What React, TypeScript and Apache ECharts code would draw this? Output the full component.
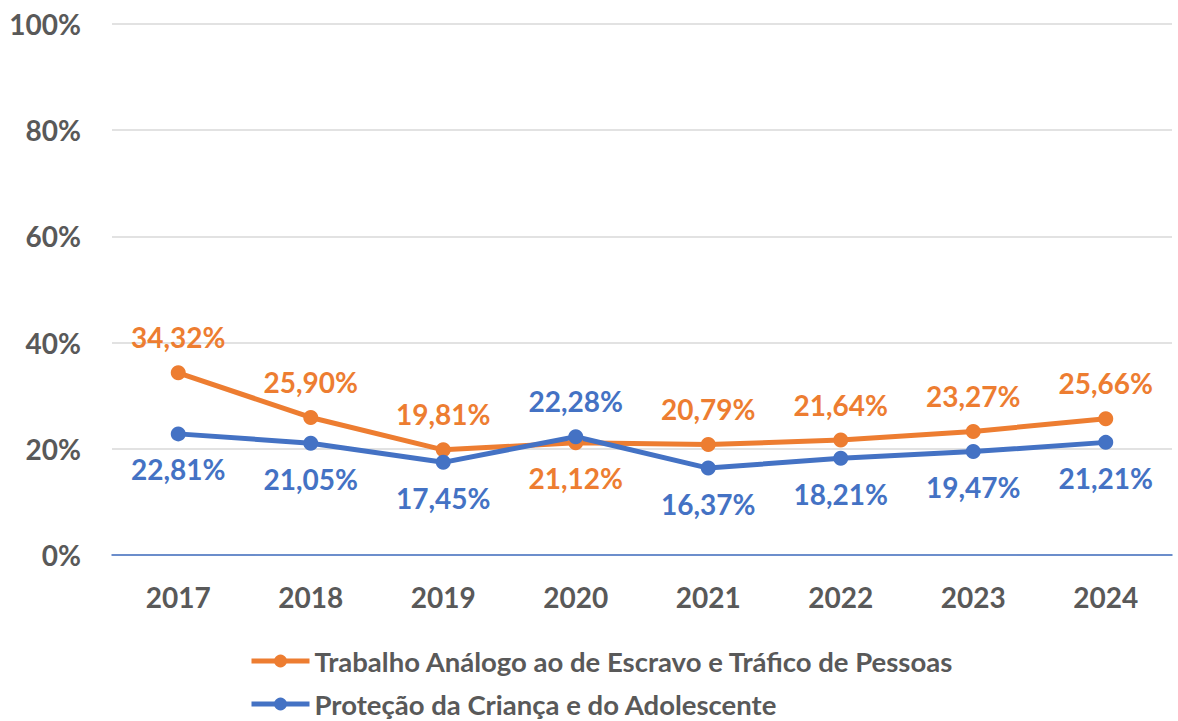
import React, { useEffect, useRef } from "react";
import * as echarts from "echarts";

const years = ["2017", "2018", "2019", "2020", "2021", "2022", "2023", "2024"];
const trabalho = [34.32, 25.9, 19.81, 21.12, 20.79, 21.64, 23.27, 25.66];
const protecao = [22.81, 21.05, 17.45, 22.28, 16.37, 18.21, 19.47, 21.21];
const trabalhoLabelPos = ["top", "top", "top", "bottom", "top", "top", "top", "top"];
const protecaoLabelPos = ["bottom", "bottom", "bottom", "top", "bottom", "bottom", "bottom", "bottom"];
const yTicks = [0, 20, 40, 60, 80, 100];
const seriesNames = [
  "Trabalho Análogo ao de Escravo e Tráfico de Pessoas",
  "Proteção da Criança e do Adolescente",
];

const ORANGE = "#ED7D31";
const BLUE = "#4472C4";
const GREY = "#595959";
const FONT = "Lato";

const fmt = (v: number) => v.toFixed(2).replace(".", ",") + "%";

export default function App() {
  const ref = useRef<HTMLDivElement>(null);
  useEffect(() => {
    if (!ref.current) return;
    const chart = echarts.init(ref.current, undefined, { renderer: "svg" });
    const mk = (vals: number[], pos: string[], color: string) =>
      vals.map((v, i) => ({
        value: v,
        label: {
          show: true,
          position: pos[i],
          distance: 14,
          formatter: () => fmt(v),
          color,
          fontSize: 28,
          fontWeight: "bold",
          fontFamily: FONT,
        },
      }));
    const legendBase = {
      orient: "horizontal",
      left: 244,
      itemWidth: 58,
      itemHeight: 16,
      lineStyle: { width: 5 },
      textStyle: { color: GREY, fontSize: 27.5, fontWeight: "bold", fontFamily: FONT },
    };
    chart.setOption({
      animation: false,
      backgroundColor: "#fff",
      grid: { left: 112, right: 6, top: 24, bottom: 166, containLabel: false },
      legend: [
        { ...legendBase, top: 642, data: [seriesNames[0]] },
        { ...legendBase, top: 685, data: [seriesNames[1]] },
      ],
      xAxis: {
        type: "category",
        data: years,
        boundaryGap: true,
        axisLine: { show: true, lineStyle: { color: BLUE, width: 1.5 } },
        axisTick: { show: false },
        axisLabel: {
          color: GREY,
          fontSize: 28,
          fontWeight: "bold",
          fontFamily: FONT,
          margin: 28,
        },
      },
      yAxis: {
        type: "value",
        min: yTicks[0],
        max: yTicks[yTicks.length - 1],
        interval: 20,
        axisLine: { show: false },
        axisTick: { show: false },
        splitLine: { lineStyle: { color: "#D9D9D9", width: 1.5 } },
        axisLabel: {
          formatter: "{value}%",
          color: GREY,
          fontSize: 28,
          fontWeight: "bold",
          fontFamily: FONT,
          margin: 31,
        },
      },
      series: [
        {
          name: seriesNames[0],
          type: "line",
          data: mk(trabalho, trabalhoLabelPos, ORANGE),
          color: ORANGE,
          symbol: "circle",
          symbolSize: 15,
          lineStyle: { width: 5, color: ORANGE },
          itemStyle: { color: ORANGE },
        },
        {
          name: seriesNames[1],
          type: "line",
          data: mk(protecao, protecaoLabelPos, BLUE),
          color: BLUE,
          symbol: "circle",
          symbolSize: 15,
          lineStyle: { width: 5, color: BLUE },
          itemStyle: { color: BLUE },
          z: 3,
        },
      ],
    });
    return () => chart.dispose();
  }, []);
  return <div ref={ref} style={{ width: 1178, height: 721, position: "absolute", left: 0, top: 0 }} />;
}
